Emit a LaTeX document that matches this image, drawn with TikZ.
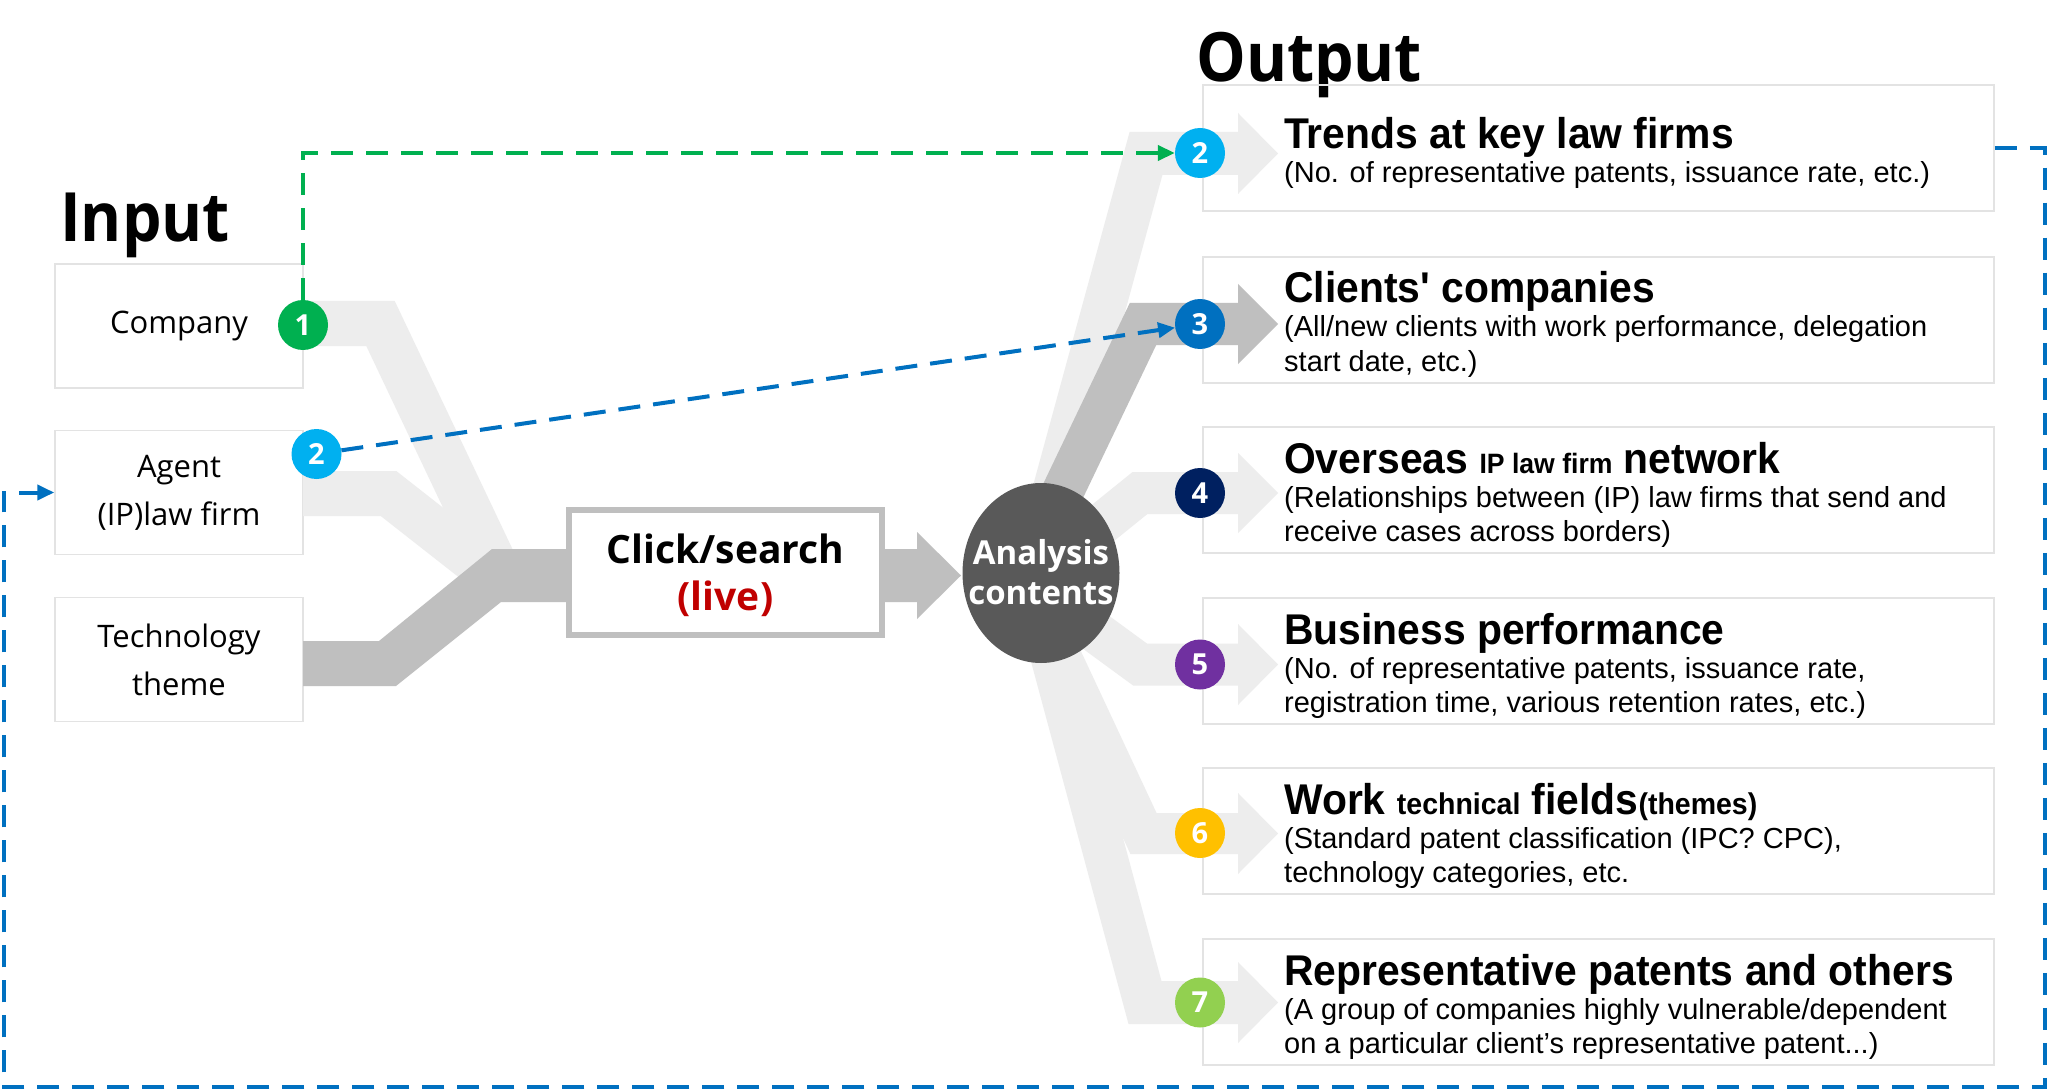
\documentclass[tikz,border=0pt]{standalone}
\usepackage{fontspec}
\setmainfont{Open Sans}
\newfontfamily\titlefont{Open Sans}[FakeStretch=0.92]
\newfontfamily\headfont{Liberation Sans}[FakeStretch=0.95,Ligatures=TeXOff]
\newfontfamily\descfont{Liberation Sans}
\usetikzlibrary{arrows.meta,shapes.geometric}
\definecolor{bandlight}{HTML}{EDEDED}
\definecolor{bandgray}{HTML}{BFBFBF}
\definecolor{boxline}{HTML}{E3E3E3}
\definecolor{circfill}{HTML}{595959}
\definecolor{cgreen}{HTML}{00B050}
\definecolor{ccyan}{HTML}{00B0F0}
\definecolor{cblue}{HTML}{0070C0}
\definecolor{cnavy}{HTML}{002060}
\definecolor{cpurple}{HTML}{7030A0}
\definecolor{cyellow}{HTML}{FFC000}
\definecolor{clime}{HTML}{92D050}
\definecolor{livered}{HTML}{C00000}
\tikzset{
  inbox/.style={draw=boxline, line width=1.5pt, minimum width=248pt, minimum height=124pt, align=center, inner sep=0pt, font=\fontsize{31}{48}\selectfont},
  outbox/.style={draw=boxline, line width=1.5pt, minimum width=791pt, minimum height=126pt, inner sep=0pt},
  badge/.style={circle, minimum size=50pt, inner sep=0pt, text=white, font=\bfseries\fontsize{29}{29}\selectfont},
  band/.style={line width=43pt, line join=miter, line cap=butt},
  heading/.style={anchor=base west, inner sep=0pt, font=\headfont\bfseries\fontsize{43}{43}\selectfont},
  desc/.style={anchor=base west, inner sep=0pt, font=\descfont\fontsize{29}{34}\selectfont},
  bigtitle/.style={anchor=base west, inner sep=0pt, font=\titlefont\bfseries\fontsize{68}{68}\selectfont},
  dashgreen/.style={draw=cgreen, line width=4pt, dash pattern=on 22pt off 13pt, -{Triangle[length=17pt,width=15pt]}},
  dashblue/.style={draw=cblue, line width=4pt, dash pattern=on 22pt off 13pt, -{Triangle[length=17pt,width=15pt]}},
}
\begin{document}
\begin{tikzpicture}[x=1pt,y=-1pt]
\useasboundingbox (0,0) rectangle (2048,1091);
\fill[white] (0,0) rectangle (2048,1091);

% titles
\node[bigtitle] (inputtitle) at (60,242) {Input};
\node[bigtitle] (outputtitle) at (1196,82) {Output};

% input boxes
\node[inbox] (in1) at (179,326) {Company};
\node[inbox] (in2) at (179,492.5) {Agent\\(IP)law firm};
\node[inbox] (in3) at (179,659.5) {Technology\\theme};

% output boxes
\node[outbox] (ob1) at (1598.5,148) {};
\node[outbox] (ob2) at (1598.5,320) {};
\node[outbox] (ob3) at (1598.5,490) {};
\node[outbox] (ob4) at (1598.5,661) {};
\node[outbox] (ob5) at (1598.5,831) {};
\node[outbox] (ob6) at (1598.5,1002) {};

% input flow bands
\draw[band, draw=bandlight, line width=45pt] (303,323.5) -- (380.5,323.5) -- (507,590);
\draw[band, draw=bandlight, line width=45pt] (303,493.5) -- (388.5,493.5) -- (479,564.5);
\fill[bandgray] (303,641) -- (379,641) -- (492,549) -- (570,549) -- (570,602) -- (501,602) -- (396,686) -- (303,686) -- cycle;

% click box
\node[draw=bandgray, line width=6pt, fill=white, minimum width=313pt, minimum height=125pt, inner sep=0pt] (click) at (725.5,572.5) {};
\node[anchor=base, inner sep=0pt, font=\bfseries\fontsize{39}{39}\selectfont] (clicktxt) at (725.5,563) {Click/search};
\node[anchor=base, inner sep=0pt, text=livered, font=\bfseries\fontsize{39}{39}\selectfont] (livetxt) at (725.5,610) {(live)};

% arrow click -> analysis
\fill[bandgray] (885,549) -- (917,549) -- (917,532) -- (961,575.5) -- (917,619) -- (917,602) -- (885,602) -- cycle;

% output bands
\draw[band, draw=bandlight] (1035,560) -- (1146,153.5) -- (1240,153.5);
\fill[bandlight] (1238,113) -- (1278,153.5) -- (1238,194) -- cycle;
\draw[band, draw=bandlight, line width=42pt] (1041,573) -- (1140,493) -- (1240,493);
\fill[bandlight] (1238,453) -- (1278,493) -- (1238,533) -- cycle;
\draw[band, draw=bandlight, line width=42pt] (1041,592) -- (1140,664.5) -- (1240,664.5);
\fill[bandlight] (1238,624) -- (1278,664.5) -- (1238,705) -- cycle;
\draw[band, draw=bandlight, line width=41pt] (1025,580) -- (1143.5,833.5) -- (1240,833.5);
\fill[bandlight] (1238,793) -- (1278,833.5) -- (1238,874) -- cycle;
\draw[band, draw=bandlight] (1030,575) -- (1145,1002.5) -- (1240,1002.5);
\fill[bandlight] (1238,962) -- (1278,1002.5) -- (1238,1043) -- cycle;
\draw[band, draw=bandgray, line width=42pt] (1030,560) -- (1143,324) -- (1240,324);
\fill[bandgray] (1238,284) -- (1278,324) -- (1238,364) -- cycle;

% analysis ellipse
\node[ellipse, fill=circfill, minimum width=157pt, minimum height=180pt, inner sep=0pt] (anal) at (1041,573) {};
\node[anchor=base, inner sep=0pt, text=white, font=\bfseries\fontsize{33}{33}\selectfont] (analtxt) at (1041,564) {Analysis};
\node[anchor=base, inner sep=0pt, text=white, font=\bfseries\fontsize{33}{33}\selectfont] (conttxt) at (1041,604) {contents};

% badges
\node[badge, fill=cgreen] (b1) at (303,325) {1};
\node[badge, fill=ccyan] (b2) at (316.5,454) {2};
\node[badge, fill=ccyan] (o2) at (1200,153) {2};
\node[badge, fill=cblue] (o3) at (1200,324) {3};
\node[badge, fill=cnavy] (o4) at (1200,493) {4};
\node[badge, fill=cpurple] (o5) at (1200,664.5) {5};
\node[badge, fill=cyellow] (o6) at (1200,833) {6};
\node[badge, fill=clime] (o7) at (1200,1002.5) {7};

% dashed connectors
\draw[dashgreen] (b1.north) |- (o2.west);
\draw[dashblue] (b2) -- (o3);
\coordinate (lpA) at (2045,148);
\coordinate (lpB) at (2045,1087);
\coordinate (lpC) at (4,1087);
\draw[dashblue] (ob1.east) -- (lpA) -- (lpB) -- (lpC) |- (in2.west);

% output texts
\node[heading] (h1) at (1284,149) {Trends at key law firms};
\node[desc] (d1a) at (1284,183) {(No. of representative patents, issuance rate, etc.)};

\node[heading] (h2) at (1284,303) {Clients' companies};
\node[desc] (d2a) at (1284,337) {(All/new clients with work performance, delegation};
\node[desc] (d2b) at (1284,371) {start date, etc.)};

\node[heading] (h3) at (1284,473) {Overseas {\fontsize{28}{28}\selectfont IP law firm} network};
\node[desc] (d3a) at (1284,507) {(Relationships between (IP) law firms that send and};
\node[desc] (d3b) at (1284,541) {receive cases across borders)};

\node[heading] (h4) at (1284,644) {Business performance};
\node[desc] (d4a) at (1284,678) {(No. of representative patents, issuance rate,};
\node[desc] (d4b) at (1284,712) {registration time, various retention rates, etc.)};

\node[heading] (h5) at (1284,814) {Work {\fontsize{30}{30}\selectfont technical} fields{\fontsize{30}{30}\selectfont(themes)}};
\node[desc] (d5a) at (1284,848) {(Standard patent classification (IPC? CPC),};
\node[desc] (d5b) at (1284,882) {technology categories, etc.};

\node[heading] (h6) at (1284,985) {Representative patents and others};
\node[desc] (d6a) at (1284,1019) {(A group of companies highly vulnerable/dependent};
\node[desc] (d6b) at (1284,1053) {on a particular client’s representative patent...)};
\end{tikzpicture}
\end{document}
